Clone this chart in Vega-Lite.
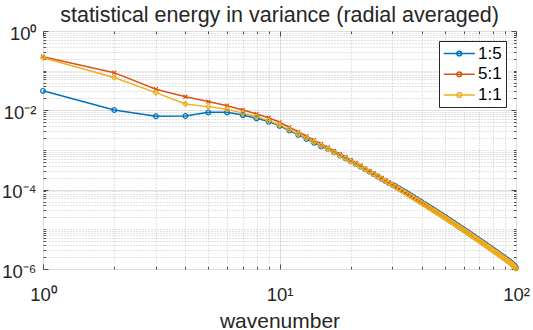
{
  "$schema": "https://vega.github.io/schema/vega-lite/v6.json",
  "width": 473,
  "height": 238,
  "autosize": "none",
  "padding": {"left": 43, "top": 31, "right": 17, "bottom": 61},
  "background": "white",
  "title": {"text": "statistical energy in variance (radial averaged)", "font": "Liberation Sans", "fontSize": 21.5, "fontWeight": "normal", "color": "#262626", "baseline": "alphabetic", "offset": 8, "dy": 27, "anchor": "middle", "frame": "group"},
  "config": {"font": "Liberation Sans", "view": {"stroke": "#4d4d4d", "strokeWidth": 1}},
  "data": {"values": [
    {"k":1,"s":"1:5","e":0.031},{"k":2,"s":"1:5","e":0.0102},{"k":3,"s":"1:5","e":0.0071},{"k":4,"s":"1:5","e":0.0072},{"k":5,"s":"1:5","e":0.0089},{"k":6,"s":"1:5","e":0.0089},{"k":7,"s":"1:5","e":0.0076},{"k":8,"s":"1:5","e":0.0063},{"k":9,"s":"1:5","e":0.0052},
    {"k":10,"s":"1:5","e":4.06e-3},{"k":11,"s":"1:5","e":3.10e-3},{"k":12,"s":"1:5","e":2.40e-3},{"k":13,"s":"1:5","e":1.90e-3},{"k":14,"s":"1:5","e":1.52e-3},{"k":15,"s":"1:5","e":1.24e-3},{"k":16,"s":"1:5","e":1.06e-3},{"k":17,"s":"1:5","e":8.77e-4},{"k":18,"s":"1:5","e":7.31e-4},{"k":19,"s":"1:5","e":6.15e-4},
    {"k":20,"s":"1:5","e":5.20e-4},{"k":21,"s":"1:5","e":4.44e-4},{"k":22,"s":"1:5","e":3.80e-4},{"k":23,"s":"1:5","e":3.27e-4},{"k":24,"s":"1:5","e":2.84e-4},{"k":25,"s":"1:5","e":2.47e-4},{"k":26,"s":"1:5","e":2.16e-4},{"k":27,"s":"1:5","e":1.89e-4},{"k":28,"s":"1:5","e":1.67e-4},{"k":29,"s":"1:5","e":1.48e-4},
    {"k":30,"s":"1:5","e":1.33e-4},{"k":31,"s":"1:5","e":1.22e-4},{"k":32,"s":"1:5","e":1.09e-4},{"k":33,"s":"1:5","e":9.75e-5},{"k":34,"s":"1:5","e":8.78e-5},{"k":35,"s":"1:5","e":7.90e-5},{"k":36,"s":"1:5","e":7.12e-5},{"k":37,"s":"1:5","e":6.43e-5},{"k":38,"s":"1:5","e":5.83e-5},{"k":39,"s":"1:5","e":5.29e-5},
    {"k":40,"s":"1:5","e":4.81e-5},{"k":41,"s":"1:5","e":4.39e-5},{"k":42,"s":"1:5","e":4.01e-5},{"k":43,"s":"1:5","e":3.66e-5},{"k":44,"s":"1:5","e":3.36e-5},{"k":45,"s":"1:5","e":3.09e-5},{"k":46,"s":"1:5","e":2.84e-5},{"k":47,"s":"1:5","e":2.61e-5},{"k":48,"s":"1:5","e":2.42e-5},{"k":49,"s":"1:5","e":2.23e-5},
    {"k":50,"s":"1:5","e":2.06e-5},{"k":51,"s":"1:5","e":1.90e-5},{"k":52,"s":"1:5","e":1.76e-5},{"k":53,"s":"1:5","e":1.64e-5},{"k":54,"s":"1:5","e":1.52e-5},{"k":55,"s":"1:5","e":1.42e-5},{"k":56,"s":"1:5","e":1.31e-5},{"k":57,"s":"1:5","e":1.23e-5},{"k":58,"s":"1:5","e":1.14e-5},{"k":59,"s":"1:5","e":1.07e-5},
    {"k":60,"s":"1:5","e":1.00e-5},{"k":61,"s":"1:5","e":9.36e-6},{"k":62,"s":"1:5","e":8.78e-6},{"k":63,"s":"1:5","e":8.22e-6},{"k":64,"s":"1:5","e":7.72e-6},{"k":65,"s":"1:5","e":7.23e-6},{"k":66,"s":"1:5","e":6.79e-6},{"k":67,"s":"1:5","e":6.41e-6},{"k":68,"s":"1:5","e":6.02e-6},{"k":69,"s":"1:5","e":5.67e-6},
    {"k":70,"s":"1:5","e":5.34e-6},{"k":71,"s":"1:5","e":5.04e-6},{"k":72,"s":"1:5","e":4.76e-6},{"k":73,"s":"1:5","e":4.49e-6},{"k":74,"s":"1:5","e":4.25e-6},{"k":75,"s":"1:5","e":4.02e-6},{"k":76,"s":"1:5","e":3.80e-6},{"k":77,"s":"1:5","e":3.60e-6},{"k":78,"s":"1:5","e":3.40e-6},{"k":79,"s":"1:5","e":3.23e-6},
    {"k":80,"s":"1:5","e":3.07e-6},{"k":81,"s":"1:5","e":2.91e-6},{"k":82,"s":"1:5","e":2.76e-6},{"k":83,"s":"1:5","e":2.63e-6},{"k":84,"s":"1:5","e":2.50e-6},{"k":85,"s":"1:5","e":2.37e-6},{"k":86,"s":"1:5","e":2.26e-6},{"k":87,"s":"1:5","e":2.15e-6},{"k":88,"s":"1:5","e":2.05e-6},{"k":89,"s":"1:5","e":1.95e-6},
    {"k":90,"s":"1:5","e":1.86e-6},{"k":91,"s":"1:5","e":1.77e-6},{"k":92,"s":"1:5","e":1.69e-6},{"k":93,"s":"1:5","e":1.62e-6},{"k":94,"s":"1:5","e":1.54e-6},{"k":95,"s":"1:5","e":1.47e-6},{"k":96,"s":"1:5","e":1.40e-6},{"k":97,"s":"1:5","e":1.32e-6},{"k":98,"s":"1:5","e":1.25e-6},{"k":99,"s":"1:5","e":1.17e-6},{"k":100,"s":"1:5","e":1.07e-6},

    {"k":1,"s":"5:1","e":0.225},{"k":2,"s":"5:1","e":0.089},{"k":3,"s":"5:1","e":0.034},{"k":4,"s":"5:1","e":0.022},{"k":5,"s":"5:1","e":0.0166},{"k":6,"s":"5:1","e":0.0131},{"k":7,"s":"5:1","e":0.0102},{"k":8,"s":"5:1","e":0.0081},{"k":9,"s":"5:1","e":0.0065},
    {"k":10,"s":"5:1","e":5.0e-3},{"k":11,"s":"5:1","e":3.75e-3},{"k":12,"s":"5:1","e":2.88e-3},{"k":13,"s":"5:1","e":2.22e-3},{"k":14,"s":"5:1","e":1.77e-3},{"k":15,"s":"5:1","e":1.43e-3},{"k":16,"s":"5:1","e":1.17e-3},{"k":17,"s":"5:1","e":9.38e-4},{"k":18,"s":"5:1","e":7.82e-4},{"k":19,"s":"5:1","e":6.58e-4},
    {"k":20,"s":"5:1","e":5.56e-4},{"k":21,"s":"5:1","e":4.75e-4},{"k":22,"s":"5:1","e":4.07e-4},{"k":23,"s":"5:1","e":3.40e-4},{"k":24,"s":"5:1","e":2.95e-4},{"k":25,"s":"5:1","e":2.57e-4},{"k":26,"s":"5:1","e":2.25e-4},{"k":27,"s":"5:1","e":1.97e-4},{"k":28,"s":"5:1","e":1.74e-4},{"k":29,"s":"5:1","e":1.54e-4},
    {"k":30,"s":"5:1","e":1.36e-4},{"k":31,"s":"5:1","e":1.18e-4},{"k":32,"s":"5:1","e":1.06e-4},{"k":33,"s":"5:1","e":9.48e-5},{"k":34,"s":"5:1","e":8.53e-5},{"k":35,"s":"5:1","e":7.67e-5},{"k":36,"s":"5:1","e":6.92e-5},{"k":37,"s":"5:1","e":6.24e-5},{"k":38,"s":"5:1","e":5.66e-5},{"k":39,"s":"5:1","e":5.14e-5},
    {"k":40,"s":"5:1","e":4.67e-5},{"k":41,"s":"5:1","e":4.26e-5},{"k":42,"s":"5:1","e":3.90e-5},{"k":43,"s":"5:1","e":3.56e-5},{"k":44,"s":"5:1","e":3.26e-5},{"k":45,"s":"5:1","e":3.00e-5},{"k":46,"s":"5:1","e":2.75e-5},{"k":47,"s":"5:1","e":2.54e-5},{"k":48,"s":"5:1","e":2.35e-5},{"k":49,"s":"5:1","e":2.16e-5},
    {"k":50,"s":"5:1","e":2.00e-5},{"k":51,"s":"5:1","e":1.85e-5},{"k":52,"s":"5:1","e":1.71e-5},{"k":53,"s":"5:1","e":1.59e-5},{"k":54,"s":"5:1","e":1.48e-5},{"k":55,"s":"5:1","e":1.38e-5},{"k":56,"s":"5:1","e":1.28e-5},{"k":57,"s":"5:1","e":1.19e-5},{"k":58,"s":"5:1","e":1.11e-5},{"k":59,"s":"5:1","e":1.04e-5},
    {"k":60,"s":"5:1","e":9.72e-6},{"k":61,"s":"5:1","e":9.09e-6},{"k":62,"s":"5:1","e":8.53e-6},{"k":63,"s":"5:1","e":7.99e-6},{"k":64,"s":"5:1","e":7.50e-6},{"k":65,"s":"5:1","e":7.03e-6},{"k":66,"s":"5:1","e":6.60e-6},{"k":67,"s":"5:1","e":6.22e-6},{"k":68,"s":"5:1","e":5.84e-6},{"k":69,"s":"5:1","e":5.51e-6},
    {"k":70,"s":"5:1","e":5.19e-6},{"k":71,"s":"5:1","e":4.90e-6},{"k":72,"s":"5:1","e":4.62e-6},{"k":73,"s":"5:1","e":4.37e-6},{"k":74,"s":"5:1","e":4.13e-6},{"k":75,"s":"5:1","e":3.91e-6},{"k":76,"s":"5:1","e":3.69e-6},{"k":77,"s":"5:1","e":3.50e-6},{"k":78,"s":"5:1","e":3.30e-6},{"k":79,"s":"5:1","e":3.14e-6},
    {"k":80,"s":"5:1","e":2.98e-6},{"k":81,"s":"5:1","e":2.83e-6},{"k":82,"s":"5:1","e":2.68e-6},{"k":83,"s":"5:1","e":2.55e-6},{"k":84,"s":"5:1","e":2.43e-6},{"k":85,"s":"5:1","e":2.31e-6},{"k":86,"s":"5:1","e":2.19e-6},{"k":87,"s":"5:1","e":2.09e-6},{"k":88,"s":"5:1","e":1.99e-6},{"k":89,"s":"5:1","e":1.90e-6},
    {"k":90,"s":"5:1","e":1.81e-6},{"k":91,"s":"5:1","e":1.72e-6},{"k":92,"s":"5:1","e":1.64e-6},{"k":93,"s":"5:1","e":1.57e-6},{"k":94,"s":"5:1","e":1.50e-6},{"k":95,"s":"5:1","e":1.43e-6},{"k":96,"s":"5:1","e":1.36e-6},{"k":97,"s":"5:1","e":1.29e-6},{"k":98,"s":"5:1","e":1.21e-6},{"k":99,"s":"5:1","e":1.13e-6},{"k":100,"s":"5:1","e":1.04e-6},

    {"k":1,"s":"1:1","e":0.212},{"k":2,"s":"1:1","e":0.067},{"k":3,"s":"1:1","e":0.028},{"k":4,"s":"1:1","e":0.0145},{"k":5,"s":"1:1","e":0.0124},{"k":6,"s":"1:1","e":0.0107},{"k":7,"s":"1:1","e":0.0085},{"k":8,"s":"1:1","e":0.0069},{"k":9,"s":"1:1","e":0.0055},
    {"k":10,"s":"1:1","e":4.27e-3},{"k":11,"s":"1:1","e":3.26e-3},{"k":12,"s":"1:1","e":2.53e-3},{"k":13,"s":"1:1","e":2.00e-3},{"k":14,"s":"1:1","e":1.60e-3},{"k":15,"s":"1:1","e":1.30e-3},{"k":16,"s":"1:1","e":1.06e-3},{"k":17,"s":"1:1","e":8.77e-4},{"k":18,"s":"1:1","e":7.31e-4},{"k":19,"s":"1:1","e":6.15e-4},
    {"k":20,"s":"1:1","e":5.20e-4},{"k":21,"s":"1:1","e":4.44e-4},{"k":22,"s":"1:1","e":3.80e-4},{"k":23,"s":"1:1","e":3.27e-4},{"k":24,"s":"1:1","e":2.84e-4},{"k":25,"s":"1:1","e":2.47e-4},{"k":26,"s":"1:1","e":2.16e-4},{"k":27,"s":"1:1","e":1.89e-4},{"k":28,"s":"1:1","e":1.67e-4},{"k":29,"s":"1:1","e":1.48e-4},
    {"k":30,"s":"1:1","e":1.31e-4},{"k":31,"s":"1:1","e":1.16e-4},{"k":32,"s":"1:1","e":1.04e-4},{"k":33,"s":"1:1","e":9.29e-5},{"k":34,"s":"1:1","e":8.36e-5},{"k":35,"s":"1:1","e":7.52e-5},{"k":36,"s":"1:1","e":6.78e-5},{"k":37,"s":"1:1","e":6.12e-5},{"k":38,"s":"1:1","e":5.55e-5},{"k":39,"s":"1:1","e":5.04e-5},
    {"k":40,"s":"1:1","e":4.58e-5},{"k":41,"s":"1:1","e":4.18e-5},{"k":42,"s":"1:1","e":3.82e-5},{"k":43,"s":"1:1","e":3.49e-5},{"k":44,"s":"1:1","e":3.20e-5},{"k":45,"s":"1:1","e":2.94e-5},{"k":46,"s":"1:1","e":2.70e-5},{"k":47,"s":"1:1","e":2.49e-5},{"k":48,"s":"1:1","e":2.30e-5},{"k":49,"s":"1:1","e":2.12e-5},
    {"k":50,"s":"1:1","e":1.96e-5},{"k":51,"s":"1:1","e":1.81e-5},{"k":52,"s":"1:1","e":1.68e-5},{"k":53,"s":"1:1","e":1.56e-5},{"k":54,"s":"1:1","e":1.45e-5},{"k":55,"s":"1:1","e":1.35e-5},{"k":56,"s":"1:1","e":1.25e-5},{"k":57,"s":"1:1","e":1.17e-5},{"k":58,"s":"1:1","e":1.09e-5},{"k":59,"s":"1:1","e":1.02e-5},
    {"k":60,"s":"1:1","e":9.53e-6},{"k":61,"s":"1:1","e":8.91e-6},{"k":62,"s":"1:1","e":8.36e-6},{"k":63,"s":"1:1","e":7.83e-6},{"k":64,"s":"1:1","e":7.35e-6},{"k":65,"s":"1:1","e":6.89e-6},{"k":66,"s":"1:1","e":6.47e-6},{"k":67,"s":"1:1","e":6.10e-6},{"k":68,"s":"1:1","e":5.73e-6},{"k":69,"s":"1:1","e":5.40e-6},
    {"k":70,"s":"1:1","e":5.09e-6},{"k":71,"s":"1:1","e":4.80e-6},{"k":72,"s":"1:1","e":4.53e-6},{"k":73,"s":"1:1","e":4.28e-6},{"k":74,"s":"1:1","e":4.05e-6},{"k":75,"s":"1:1","e":3.83e-6},{"k":76,"s":"1:1","e":3.62e-6},{"k":77,"s":"1:1","e":3.43e-6},{"k":78,"s":"1:1","e":3.24e-6},{"k":79,"s":"1:1","e":3.08e-6},
    {"k":80,"s":"1:1","e":2.92e-6},{"k":81,"s":"1:1","e":2.77e-6},{"k":82,"s":"1:1","e":2.63e-6},{"k":83,"s":"1:1","e":2.50e-6},{"k":84,"s":"1:1","e":2.38e-6},{"k":85,"s":"1:1","e":2.26e-6},{"k":86,"s":"1:1","e":2.15e-6},{"k":87,"s":"1:1","e":2.05e-6},{"k":88,"s":"1:1","e":1.95e-6},{"k":89,"s":"1:1","e":1.86e-6},
    {"k":90,"s":"1:1","e":1.77e-6},{"k":91,"s":"1:1","e":1.69e-6},{"k":92,"s":"1:1","e":1.61e-6},{"k":93,"s":"1:1","e":1.54e-6},{"k":94,"s":"1:1","e":1.47e-6},{"k":95,"s":"1:1","e":1.40e-6},{"k":96,"s":"1:1","e":1.33e-6},{"k":97,"s":"1:1","e":1.26e-6},{"k":98,"s":"1:1","e":1.19e-6},{"k":99,"s":"1:1","e":1.11e-6},{"k":100,"s":"1:1","e":1.02e-6}
  ]},
  "resolve": {"axis": {"x": "independent", "y": "independent"}},
  "layer": [
    {
      "mark": {"type": "line", "strokeWidth": 1.5, "clip": false},
      "encoding": {
        "x": {"field": "k", "type": "quantitative", "scale": {"type": "log", "domain": [1, 100], "nice": false},
          "axis": {"orient": "bottom", "values": [1, 10, 100], "title": "wavenumber", "ticks": false, "domain": false, "grid": true, "gridColor": "#dedede", "gridWidth": 1,
            "labelExpr": "datum.value < 5 ? '10⁰' : datum.value < 50 ? '10¹' : '10²'", "labelFont": "Liberation Sans", "labelFontSize": 18.5, "labelColor": "#262626", "labelBaseline": "alphabetic", "labelPadding": 31, "labelFlush": false, "labelOverlap": false,
            "titleFont": "Liberation Sans", "titleFontSize": 21, "titleFontWeight": "normal", "titleColor": "#262626", "titleBaseline": "alphabetic", "titleY": 58}},
        "y": {"field": "e", "type": "quantitative", "scale": {"type": "log", "domain": [1e-6, 1], "nice": false},
          "axis": {"orient": "left", "values": [1, 0.01, 0.0001, 0.000001], "title": null, "ticks": false, "domain": false, "grid": true, "gridColor": "#dedede", "gridWidth": 1,
            "labelExpr": "datum.value > 0.1 ? '10⁰' : datum.value > 0.001 ? '10⁻²' : datum.value > 0.00001 ? '10⁻⁴' : '10⁻⁶'", "labelFont": "Liberation Sans", "labelFontSize": 18.5, "labelColor": "#262626", "labelBaseline": "middle", "labelPadding": 7, "labelOffset": 2, "labelFlush": false, "labelOverlap": false}},
        "color": {"field": "s", "type": "nominal", "scale": {"domain": ["1:5", "5:1", "1:1"], "range": ["#0072BD", "#D95319", "#EDB120"]},
          "legend": {"title": null, "orient": "top-right", "offset": 10, "padding": 4, "strokeColor": "#262626", "fillColor": "white", "labelFont": "Liberation Sans", "labelFontSize": 17, "labelColor": "#000000", "symbolType": "M-1,0H3M0.7,0a0.3,0.3 0 1,0 0.6,0a0.3,0.3 0 1,0 -0.6,0", "symbolSize": 240, "symbolStrokeWidth": 1.5, "labelOffset": 18, "rowPadding": 2.7}}
      }
    },
    {
      "transform": [{"filter": "datum.s == '1:5'"}],
      "mark": {"type": "point", "shape": "circle", "filled": false, "size": 22, "strokeWidth": 1.2, "opacity": 1, "clip": false},
      "encoding": {
        "x": {"field": "k", "type": "quantitative", "scale": {"type": "log", "domain": [1, 100], "nice": false},
          "axis": {"orient": "bottom", "values": [1,2,3,4,5,6,7,8,9,10,20,30,40,50,60,70,80,90,100], "title": null, "labels": false, "domain": false, "grid": true, "gridDash": [1, 2], "gridColor": "#c4c4c4",
            "gridOpacity": {"condition": {"test": "datum.value == 1 || datum.value == 10 || datum.value == 100", "value": 0}, "value": 1},
            "ticks": true, "tickColor": "#4d4d4d", "tickSize": {"condition": {"test": "datum.value == 1 || datum.value == 10 || datum.value == 100", "value": -5}, "value": -2.5}}},
        "y": {"field": "e", "type": "quantitative", "scale": {"type": "log", "domain": [1e-6, 1], "nice": false},
          "axis": {"orient": "left", "values": [1e-6,2e-6,3e-6,4e-6,5e-6,6e-6,7e-6,8e-6,9e-6,1e-5,2e-5,3e-5,4e-5,5e-5,6e-5,7e-5,8e-5,9e-5,1e-4,2e-4,3e-4,4e-4,5e-4,6e-4,7e-4,8e-4,9e-4,1e-3,2e-3,3e-3,4e-3,5e-3,6e-3,7e-3,8e-3,9e-3,1e-2,2e-2,3e-2,4e-2,5e-2,6e-2,7e-2,8e-2,9e-2,0.1,0.2,0.3,0.4,0.5,0.6,0.7,0.8,0.9,1],
            "title": null, "labels": false, "domain": false, "grid": true, "gridDash": [1, 2], "gridColor": "#c4c4c4",
            "gridOpacity": {"condition": {"test": "datum.value == 1 || datum.value == 0.01 || datum.value == 0.0001 || datum.value == 0.000001", "value": 0}, "value": 1},
            "ticks": true, "tickColor": "#4d4d4d", "tickSize": {"condition": {"test": "datum.value == 1 || datum.value == 0.01 || datum.value == 0.0001 || datum.value == 0.000001", "value": -5}, "value": -2.5}}},
        "color": {"field": "s", "type": "nominal", "scale": {"domain": ["1:5", "5:1", "1:1"], "range": ["#0072BD", "#D95319", "#EDB120"]}, "legend": null}
      }
    },
    {
      "transform": [{"filter": "datum.s == '5:1'"}],
      "mark": {"type": "point", "shape": "M-1,-1L1,1M-1,1L1,-1", "filled": false, "size": 16, "strokeWidth": 1.1, "opacity": 1, "clip": false},
      "encoding": {
        "x": {"field": "k", "type": "quantitative", "scale": {"type": "log", "domain": [1, 100], "nice": false}, "axis": null},
        "y": {"field": "e", "type": "quantitative", "scale": {"type": "log", "domain": [1e-6, 1], "nice": false}, "axis": null},
        "color": {"field": "s", "type": "nominal", "scale": {"domain": ["1:5", "5:1", "1:1"], "range": ["#0072BD", "#D95319", "#EDB120"]}, "legend": null}
      }
    },
    {
      "transform": [{"filter": "datum.s == '1:1'"}],
      "mark": {"type": "point", "shape": "diamond", "filled": false, "size": 26, "strokeWidth": 1.2, "opacity": 1, "clip": false},
      "encoding": {
        "x": {"field": "k", "type": "quantitative", "scale": {"type": "log", "domain": [1, 100], "nice": false}, "axis": null},
        "y": {"field": "e", "type": "quantitative", "scale": {"type": "log", "domain": [1e-6, 1], "nice": false}, "axis": null},
        "color": {"field": "s", "type": "nominal", "scale": {"domain": ["1:5", "5:1", "1:1"], "range": ["#0072BD", "#D95319", "#EDB120"]}, "legend": null}
      }
    },
    {
      "mark": {"type": "point", "opacity": 0},
      "encoding": {
        "x": {"field": "k", "type": "quantitative", "scale": {"type": "log", "domain": [1, 100], "nice": false},
          "axis": {"orient": "top", "values": [1,2,3,4,5,6,7,8,9,10,20,30,40,50,60,70,80,90,100], "title": null, "labels": false, "domain": false, "grid": false,
            "ticks": true, "tickColor": "#4d4d4d", "tickSize": {"condition": {"test": "datum.value == 1 || datum.value == 10 || datum.value == 100", "value": -5}, "value": -2.5}}},
        "y": {"field": "e", "type": "quantitative", "scale": {"type": "log", "domain": [1e-6, 1], "nice": false},
          "axis": {"orient": "right", "values": [1e-6,2e-6,3e-6,4e-6,5e-6,6e-6,7e-6,8e-6,9e-6,1e-5,2e-5,3e-5,4e-5,5e-5,6e-5,7e-5,8e-5,9e-5,1e-4,2e-4,3e-4,4e-4,5e-4,6e-4,7e-4,8e-4,9e-4,1e-3,2e-3,3e-3,4e-3,5e-3,6e-3,7e-3,8e-3,9e-3,1e-2,2e-2,3e-2,4e-2,5e-2,6e-2,7e-2,8e-2,9e-2,0.1,0.2,0.3,0.4,0.5,0.6,0.7,0.8,0.9,1],
            "title": null, "labels": false, "domain": false, "grid": false,
            "ticks": true, "tickColor": "#4d4d4d", "tickSize": {"condition": {"test": "datum.value == 1 || datum.value == 0.01 || datum.value == 0.0001 || datum.value == 0.000001", "value": -5}, "value": -2.5}}}
      }
    }
  ]
}
